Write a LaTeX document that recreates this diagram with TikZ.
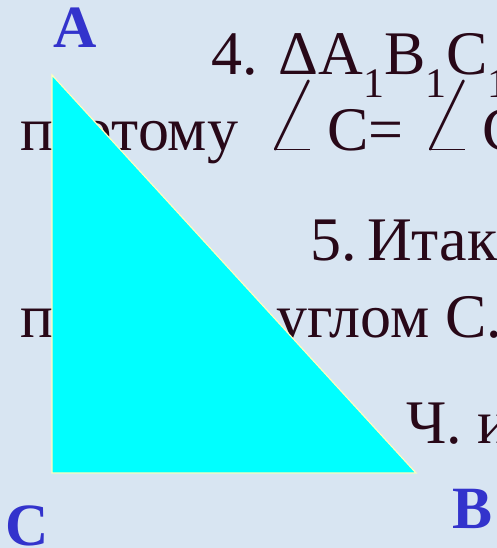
\RequirePackage{fix-cm}
\documentclass[tikz,border=0pt]{standalone}
\usepackage{fontspec}
\usepackage{graphicx}
\setmainfont{Liberation Serif}
\usetikzlibrary{positioning}
\definecolor{slidebg}{RGB}{216,229,242}
\definecolor{inkdark}{RGB}{40,8,24}
\definecolor{lblblue}{RGB}{51,51,204}
\definecolor{trifill}{RGB}{0,255,255}
\definecolor{triedge}{RGB}{255,255,190}
\newcommand{\lowone}{\raisebox{-0.36em}{\fontsize{42}{42}\selectfont 1}}
\newcommand{\bigangle}{\scalebox{1.65}[1.75]{$\angle$}}

\begin{document}
\begin{tikzpicture}[x=1pt, y=-1pt,
                  txt/.style={anchor=base west, inner sep=0pt, text=inkdark,
                              font=\fontsize{62}{62}\selectfont},
                  lbl/.style={anchor=base, inner sep=0pt, text=lblblue,
                              font=\fontsize{60}{60}\selectfont\bfseries},
                  tri/.style={fill=trifill, draw=triedge, line width=1.2pt, line join=miter},
            ]
            % Background of the slide
            \useasboundingbox (0,0) rectangle (497,548);
            \clip (0,0) rectangle (497,548);
            \fill[slidebg] (0,0) rectangle (497,548);

            % Lines of text (cut at the right edge)
            \node[txt] (l4) at (211,75) {4. ΔA\lowone B\lowone C\lowone};
            \node[txt] (l4b) at (20,150)
                  {поэтому\hspace{0.42em}\bigangle\hspace{0.12em}C=\hspace{0.25em}\bigangle\hspace{0.12em}C\lowone};
            \node[txt] (l5) at (310,260) {5.\hspace{0.17em}Итак,};
            \node[txt] (l5b) at (20,337) {прямым\hspace{0.7em}углом С.};
            \node[txt] (l6) at (406,443) {Ч. и};

            % Triangle over the text
            \coordinate (a) at (52,75);
            \coordinate (c) at (52,473);
            \coordinate (b) at (416,473);
            \filldraw[tri] (a) -- (c) -- (b) -- cycle;

            % Vertex labels
            \node[lbl] (la) at (75,48) {A};
            \node[lbl] (lc) at (27,545) {C};
            \node[lbl] (lb) at (473,528) {B};

      \end{tikzpicture}
\end{document}
